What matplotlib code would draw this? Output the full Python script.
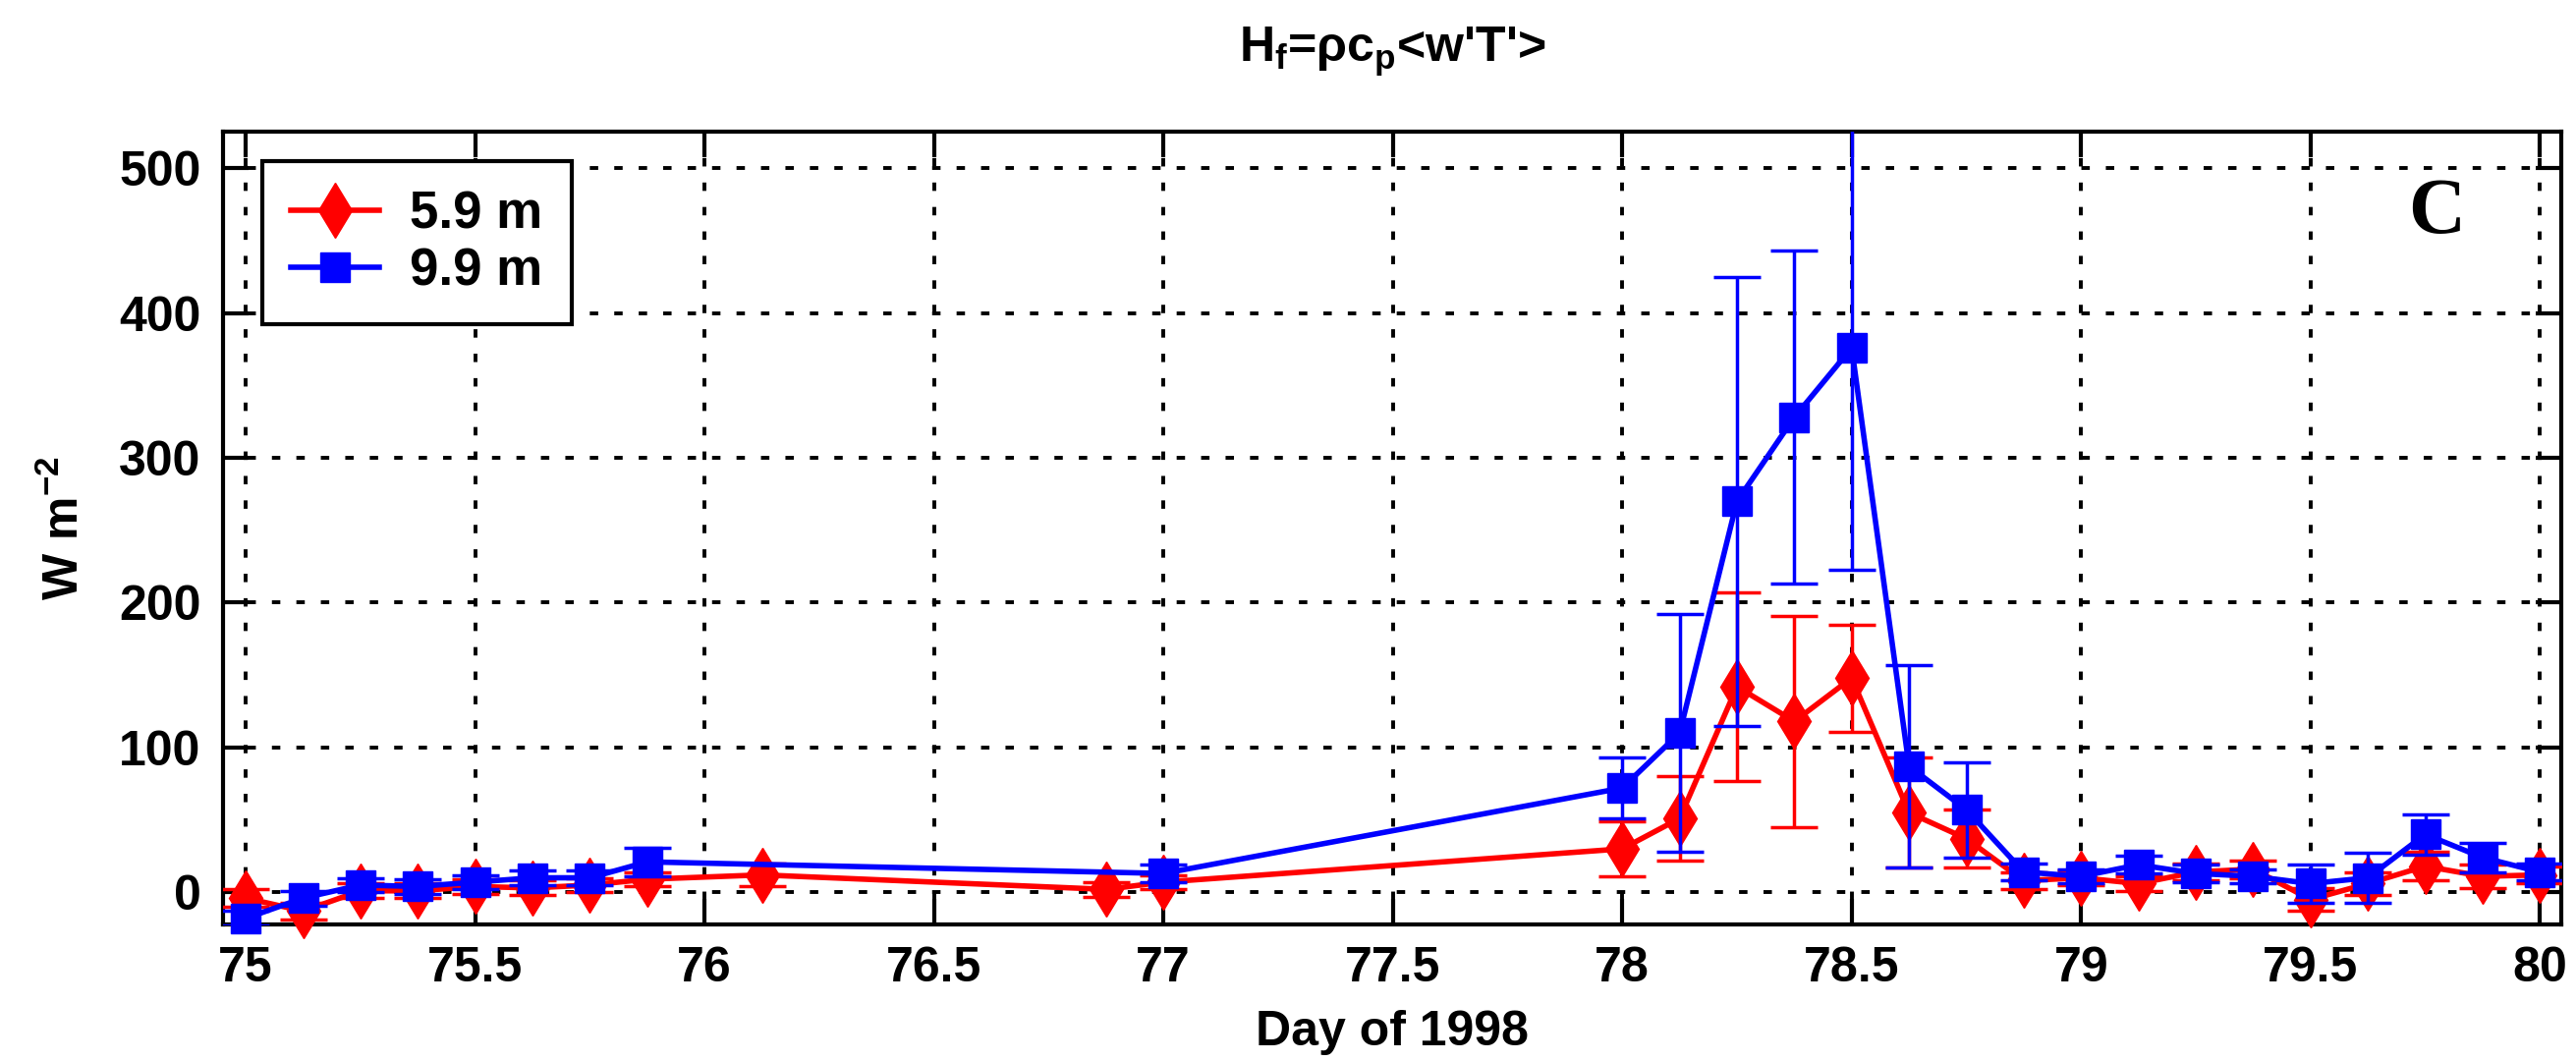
import matplotlib
matplotlib.use("Agg")
import matplotlib.pyplot as plt

plt.rcParams['font.family'] = ['Liberation Sans', 'DejaVu Sans']
plt.rcParams['font.weight'] = 'bold'
plt.rcParams['axes.labelweight'] = 'bold'
plt.rcParams['mathtext.default'] = 'regular'

# sensible heat flux, 5.9 m sensor
days_59 = [75, 75.125, 75.25, 75.375, 75.5, 75.625, 75.75, 75.875, 76.125,
           76.875, 77, 78, 78.125, 78.25, 78.375, 78.5, 78.625, 78.75,
           78.875, 79, 79.125, 79.25, 79.375, 79.5, 79.625, 79.75, 79.875, 80]
flux_59 = [-4, -13, 1, 1, 4, 3, 5, 9, 12,
           2, 7, 30, 51, 142, 118, 148, 55, 37,
           8, 10, 6, 14, 16, -5, 6, 18, 11, 12]
err_59 = [6, 6, 5, 5, 5, 5, 5, 5, 8,
          5, 5, 19, 29, 65, 73, 37, 38, 20,
          6, 5, 5, 6, 6, 8, 8, 10, 8, 6]

# sensible heat flux, 9.9 m sensor
days_99 = [75, 75.125, 75.25, 75.375, 75.5, 75.625, 75.75, 75.875, 77,
           78, 78.125, 78.25, 78.375, 78.5, 78.625, 78.75, 78.875,
           79, 79.125, 79.25, 79.375, 79.5, 79.625, 79.75, 79.875, 80]
flux_99 = [-18, -4, 5, 4, 7, 10, 10, 21, 13,
           72, 110, 270, 328, 376, 87, 57, 14,
           11, 19, 13, 11, 6, 10, 40, 24, 14]
err_99 = [5, 5, 5, 5, 5, 5, 5, 10, 6,
          21, 82, 155, 115, 153, 70, 33, 6,
          5, 6, 6, 5, 13, 17, 14, 10, 6]

x_ticks = [75, 75.5, 76, 76.5, 77, 77.5, 78, 78.5, 79, 79.5, 80]
y_ticks = [0, 100, 200, 300, 400, 500]

FS = 36

fig = plt.figure(figsize=(26.22, 10.8), dpi=100)
ax = fig.add_axes([0.0865, 0.129, 0.9077, 0.7466])


def draw_series(days, flux, err, color, marker, ms, label, z):
    ax.errorbar(days, flux, yerr=err, fmt='none', ecolor=color,
                elinewidth=2.5, capsize=17, capthick=2.5, zorder=z)
    line, = ax.plot(days, flux, color=color, lw=4, marker=marker, ms=ms,
                    mfc=color, mec=color, clip_on=False, zorder=z + 1,
                    label=label)
    return line


h1 = draw_series(days_59, flux_59, err_59, '#ff0000', 'd', 29, '5.9 m', 3)
h2 = draw_series(days_99, flux_99, err_99, '#0000ff', 's', 21, '9.9 m', 5)

ax.set_xlim(74.95, 80.046)
ax.set_ylim(-22, 525)
ax.set_xticks(x_ticks)
ax.set_xticklabels(['%g' % t for t in x_ticks])
ax.set_yticks(y_ticks)

ax.grid(True, color='k', linestyle=(0, (2.2, 4.2)), linewidth=2.8)
ax.tick_params(direction='in', length=19, width=3, top=True, right=True,
               labelsize=FS, pad=16)
for sp in ax.spines.values():
    sp.set_linewidth(3)

ax.set_xlabel('Day of 1998', fontsize=FS)
ax.xaxis.set_label_coords(0.5, -0.108)
ax.set_ylabel('W m$^{-2}$', fontsize=FS)
ax.yaxis.set_label_coords(-0.0574, 0.5)

ax.text(0.5, 1.0884, "H$_f$=ρc$_p$<w'T'>", transform=ax.transAxes,
        ha='center', va='baseline', fontsize=FS)

ax.text(0.947, 0.897, 'C', transform=ax.transAxes, ha='center', va='center',
        fontsize=58, family='Liberation Serif', weight='bold')

leg = ax.legend(handles=[h1, h2], loc='upper left',
                bbox_to_anchor=(0.0169, 0.963), borderaxespad=0,
                fontsize=38, handlelength=1.7, handletextpad=0.6,
                borderpad=0.55, labelspacing=0.15, fancybox=False,
                framealpha=1, edgecolor='k')
leg.get_frame().set_linewidth(3)

fig.savefig('out.png', dpi=100)
